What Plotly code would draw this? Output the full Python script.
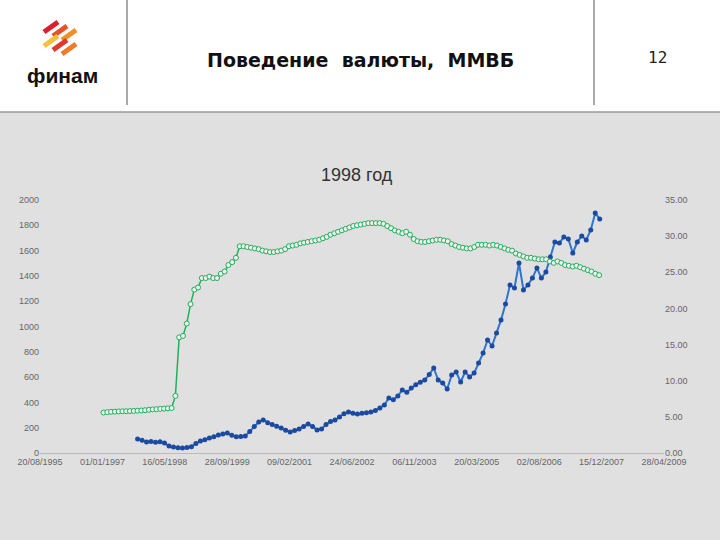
import plotly.graph_objects as go
import pandas as pd

x_tick_dates = ["1995-08-20","1997-01-01","1998-05-16","1999-09-28","2001-02-09","2002-06-24",
                "2003-11-06","2005-03-20","2006-08-02","2007-12-15","2009-04-28"]
x_tick_text = ["20/08/1995","01/01/1997","16/05/1998","28/09/1999","09/02/2001","24/06/2002",
               "06/11/2003","20/03/2005","02/08/2006","15/12/2007","28/04/2009"]

usd_rub = [5.6,5.65,5.7,5.72,5.75,5.77,5.78,5.8,5.82,5.85,5.88,5.92,
           5.98,6.03,6.06,6.1,6.14,6.18,6.22,7.9,16.0,16.2,17.9,20.6,
           22.6,22.9,24.2,24.2,24.4,24.2,24.2,24.8,25.1,26.0,26.4,27.0,
           28.6,28.6,28.5,28.4,28.3,28.2,28.0,27.9,27.8,27.8,27.9,28.0,
           28.2,28.6,28.7,28.8,29.0,29.1,29.2,29.3,29.4,29.5,29.7,29.9,
           30.2,30.4,30.6,30.8,31.0,31.2,31.4,31.5,31.6,31.7,31.8,31.8,
           31.8,31.8,31.7,31.4,31.1,30.8,30.6,30.4,30.6,30.2,29.6,29.3,
           29.2,29.2,29.3,29.4,29.5,29.5,29.4,29.3,28.9,28.7,28.5,28.4,
           28.3,28.3,28.5,28.8,28.8,28.8,28.7,28.8,28.7,28.5,28.3,28.1,
           28.0,27.6,27.4,27.2,27.0,27.0,26.9,26.8,26.8,26.8,26.5,26.3,
           26.5,26.3,26.0,25.9,25.8,25.9,25.7,25.5,25.3,25.1,24.8,24.6]

index_vals = [111,100,87,90,85,88,80,55,47,42,40,44,50,75,95,105,118,128,142,150,
              158,140,128,130,135,170,210,245,261,240,225,212,198,180,166,178,190,210,229,210,
              182,190,225,250,261,285,310,324,315,309,315,318,324,335,356,380,435,420,450,498,
              480,514,540,560,577,620,672,
              577,553,506,616,640,561,640,601,632,711,790,893,846,949,1051,1178,1328,1304,1502,1289,
              1328,1383,1462,1383,1431,1549,1668,1660,1708,1692,1581,1668,1715,1684,1763,1897,1850]

g_dates = pd.date_range("1997-01-10", "2007-11-25", periods=len(usd_rub))
b_dates = pd.date_range("1997-10-10", "2007-11-30", periods=len(index_vals))

fig = go.Figure()
fig.add_trace(go.Scatter(x=b_dates, y=index_vals, mode="lines+markers",
                         line=dict(color="#2f74d0", width=2),
                         marker=dict(color="#1c4aa0", size=5), yaxis="y"))
fig.add_trace(go.Scatter(x=g_dates, y=usd_rub, mode="lines+markers",
                         line=dict(color="#1fb05a", width=1.5),
                         marker=dict(color="#f0f0f0", size=5, line=dict(color="#1fb05a", width=1)),
                         yaxis="y2"))

def px(x): return (x-40)/624
def py(y): return (453-y)/253

shapes = [
    dict(type="rect", xref="paper", yref="paper", x0=px(0), x1=px(720), y0=py(112), y1=py(0),
         fillcolor="white", line=dict(width=0), layer="below"),
    dict(type="line", xref="paper", yref="paper", x0=px(0), x1=px(720), y0=py(112), y1=py(112),
         line=dict(color="#9a9a9a", width=1.5)),
    dict(type="line", xref="paper", yref="paper", x0=px(127), x1=px(127), y0=py(105), y1=py(0),
         line=dict(color="#555", width=1)),
    dict(type="line", xref="paper", yref="paper", x0=px(594), x1=px(594), y0=py(105), y1=py(0),
         line=dict(color="#555", width=1)),
]
logo_cols = ["#d8202a","#e8502a","#f0902a","#f5c040","#e03a30","#f07a2a"]
for i, c in enumerate(logo_cols):
    xa = 44 + (i % 3) * 9
    ya = 22 + (i // 3) * 14 + (i % 3) * 4
    shapes.append(dict(type="line", xref="paper", yref="paper", x0=px(xa), x1=px(xa+14),
                       y0=py(ya+10), y1=py(ya), line=dict(color=c, width=5)))

def ann(text, x, y, size, color, family):
    return dict(text=text, x=px(x), y=py(y), xref="paper", yref="paper", showarrow=False,
                xanchor="center", yanchor="middle", font=dict(size=size, color=color, family=family))

fig.update_layout(
    width=720, height=540, margin=dict(l=40, r=56, t=200, b=87),
    paper_bgcolor="#e0e0e0", plot_bgcolor="rgba(0,0,0,0)", showlegend=False,
    font=dict(family="Arial, Liberation Sans", color="#555"),
    shapes=shapes,
    xaxis=dict(range=["1995-08-20","2009-04-28"], tickvals=x_tick_dates, ticktext=x_tick_text,
               showgrid=False, showline=True, linecolor="#bbb", ticks="", tickfont=dict(size=9, color="#666"),
               zeroline=False),
    yaxis=dict(range=[0,2000], tickvals=list(range(0,2001,200)), showgrid=False, zeroline=False,
               tickfont=dict(size=9, color="#666"), ticks=""),
    yaxis2=dict(range=[0,35], overlaying="y", side="right", tickvals=list(range(0,36,5)),
                tickformat=".2f", showgrid=False, zeroline=False, tickfont=dict(size=9, color="#666"), ticks=""),
    annotations=[
        ann("1998 год", 357, 175, 18, "#333", "Arial"),
        ann("<b>Поведение  валюты,  ММВБ</b>", 360, 60, 19, "#111", "DejaVu Sans"),
        ann("12", 657, 58, 16, "#222", "DejaVu Sans Mono"),
        ann("<b>финам</b>", 62, 76, 21, "#111", "Arial"),
    ],
)
fig.write_html("out.html", config={"displayModeBar": False},
               post_script="document.body.style.margin='0';document.body.style.overflow='hidden';")
